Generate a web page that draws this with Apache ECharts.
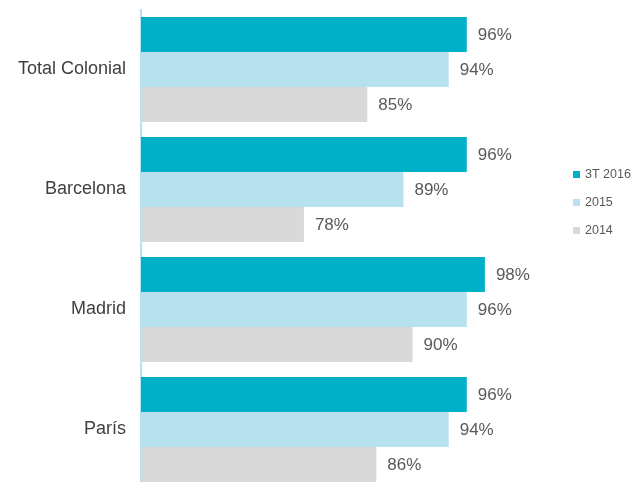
<!DOCTYPE html>
<html>
<head>
<meta charset="utf-8">
<script src="https://cdn.jsdelivr.net/npm/echarts@6/dist/echarts.min.js"></script>
<style>
  html, body { margin: 0; padding: 0; background: #fff; }
  #chart { width: 631px; height: 482px; }
</style>
</head>
<body>
<div id="chart"></div>
<script>
var categories = ["Total Colonial", "Barcelona", "Madrid", "París"];
var seriesNames = ["3T 2016", "2015", "2014"];
var data3T2016 = [96, 96, 98, 96];
var data2015 = [94, 89, 96, 94];
var data2014 = [85, 78, 90, 86];
var colors = ["#00afc8", "#b7e1ee", "#d9d9d9"];

var myChart = echarts.init(document.getElementById("chart"));

function makeSeries(name, data) {
  return {
    name: name,
    type: "bar",
    data: data,
    barGap: "0%",
    barCategoryGap: "12.5%",
    label: {
      show: true,
      position: "right",
      distance: 11,
      formatter: "{c}%",
      fontSize: 17,
      color: "#595959",
      fontFamily: "Liberation Sans",
      offset: [0, 1]
    }
  };
}

var option = {
  animation: false,
  color: colors,
  grid: {
    left: 141,
    width: 362,
    top: 9.5,
    height: 480,
    outerBoundsMode: "none"
  },
  legend: {
    orient: "vertical",
    left: 573,
    top: 168,
    padding: 0,
    itemWidth: 7,
    itemHeight: 7,
    itemGap: 15,
    icon: "rect",
    data: seriesNames,
    textStyle: {
      fontSize: 12.5,
      color: "#595959",
      fontFamily: "Liberation Sans"
    }
  },
  xAxis: {
    type: "value",
    min: 60,
    max: 100,
    show: false
  },
  yAxis: {
    type: "category",
    data: categories,
    inverse: true,
    axisLine: {
      show: true,
      lineStyle: { color: "#9fd7e6", width: 1.5 }
    },
    axisTick: { show: false },
    axisLabel: {
      margin: 15,
      fontSize: 18,
      color: "#404040",
      fontFamily: "Liberation Sans",
      padding: [2, 0, 0, 0]
    }
  },
  series: [
    makeSeries(seriesNames[0], data3T2016),
    makeSeries(seriesNames[1], data2015),
    makeSeries(seriesNames[2], data2014)
  ]
};

myChart.setOption(option);
</script>
</body>
</html>
